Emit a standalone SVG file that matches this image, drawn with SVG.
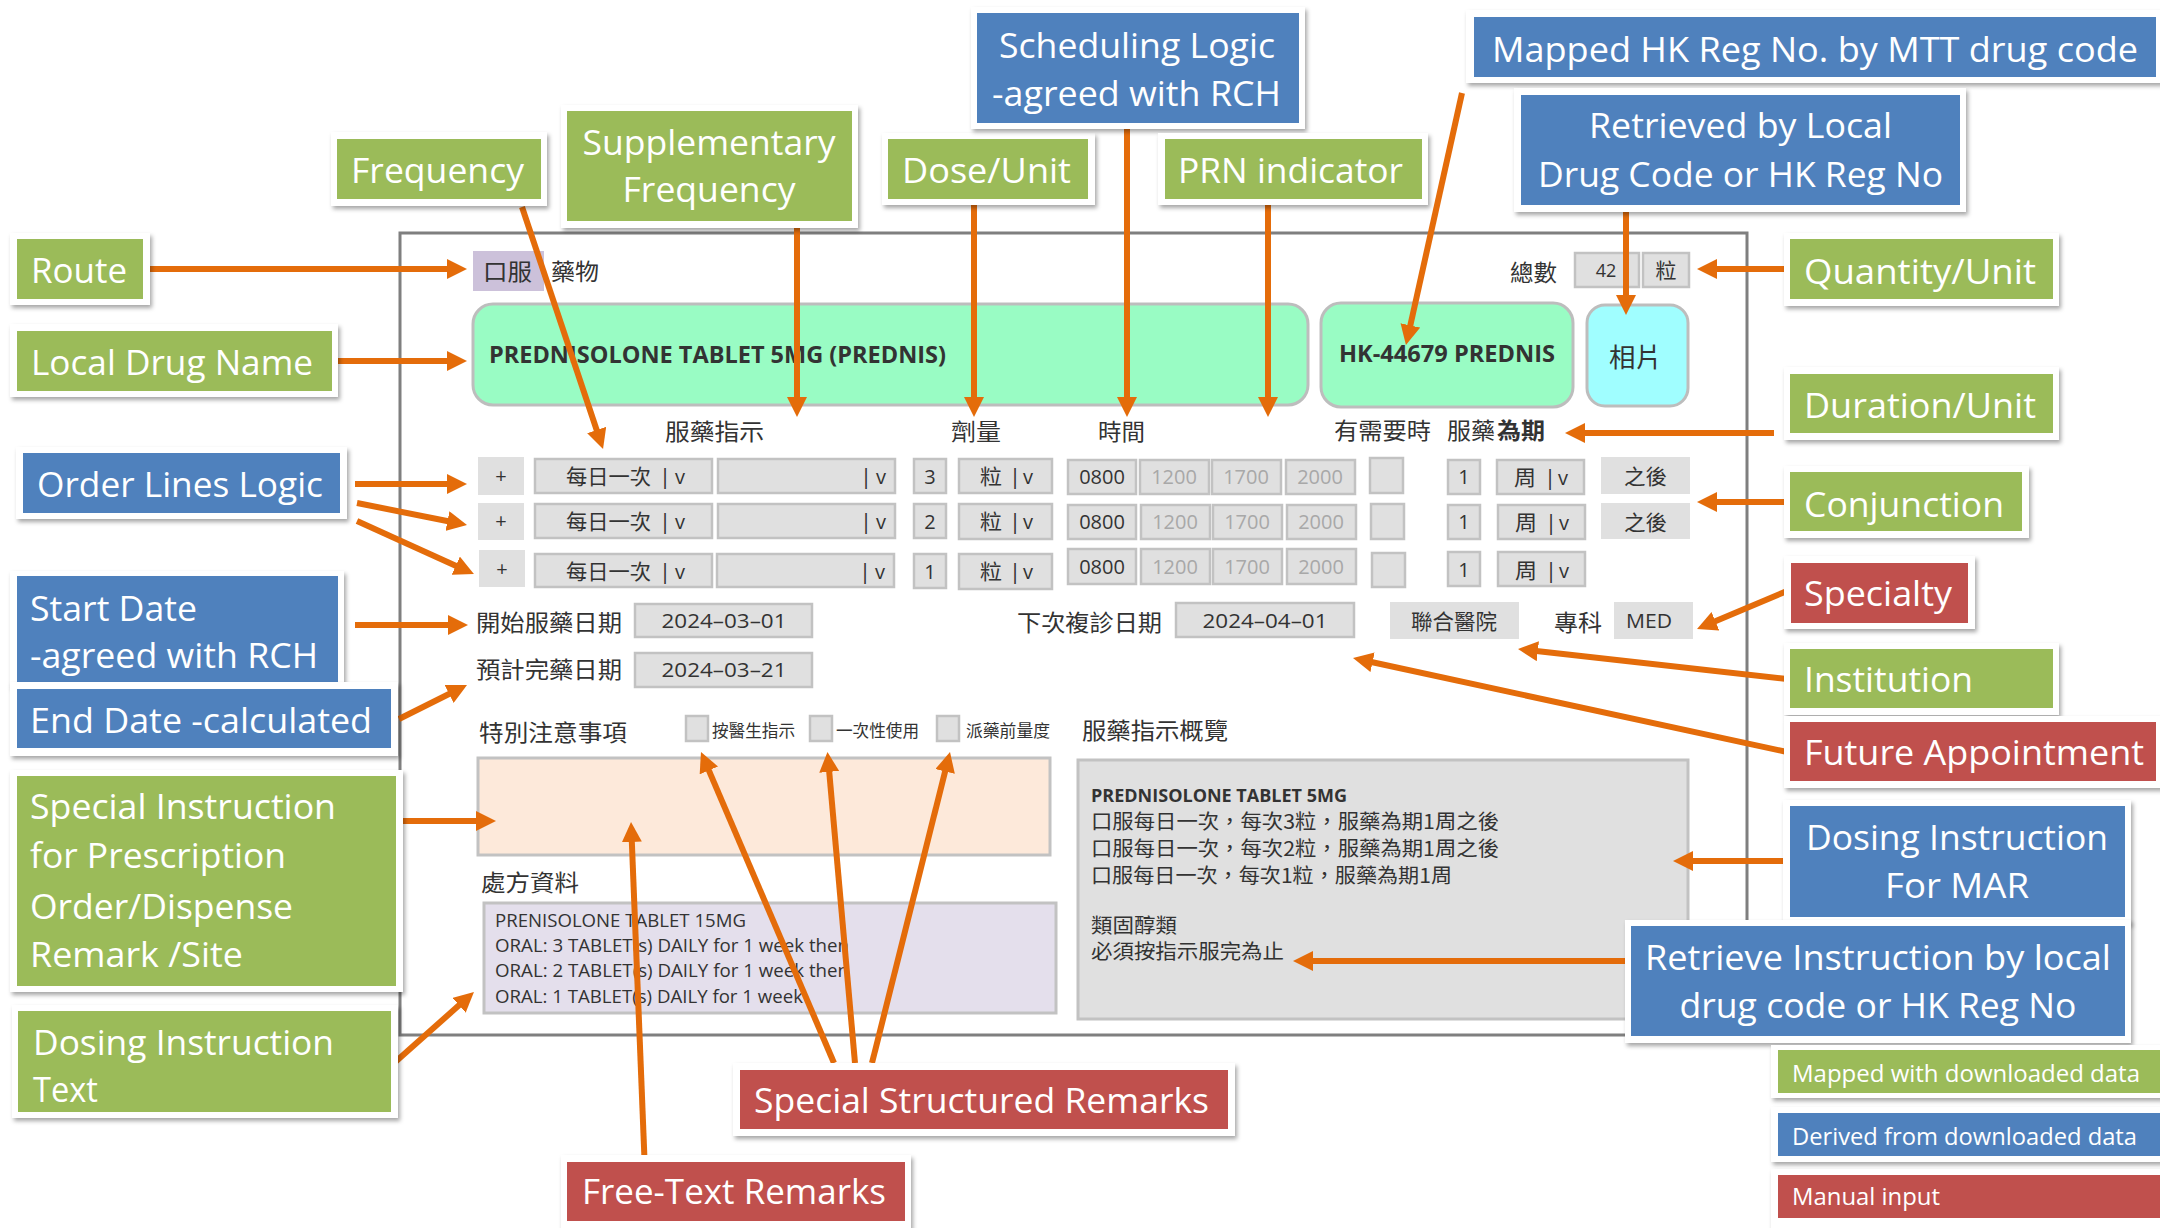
<svg xmlns="http://www.w3.org/2000/svg" width="2160" height="1228" viewBox="0 0 2160 1228">
<defs>
<filter id="sh" x="-10%" y="-20%" width="120%" height="150%">
<feDropShadow dx="2" dy="3" stdDeviation="2.2" flood-color="#000" flood-opacity="0.35"/>
</filter>
<marker id="ah" markerUnits="userSpaceOnUse" markerWidth="20" markerHeight="20" refX="6" refY="10" orient="auto">
<path d="M0,0 L20,10 L0,20 z" fill="#e46c0a"/>
</marker>
<style>
.card{fill:#fff;filter:url(#sh)}
.g{fill:#9bbb59}.b{fill:#4f81bd}.r{fill:#c0504d}
.lt{font-family:"Open Sans","Noto Sans",sans-serif;font-size:35px;fill:#fff}
.lg{font-size:24px}
.frame{fill:#fff;stroke:#7f7f7f;stroke-width:3}
.inp{fill:#e0e0e0;stroke:#c2c2c2;stroke-width:2.5}
.flat{fill:#e0e0e0}
.cj{font-family:"Noto Sans CJK TC","Noto Sans CJK SC",sans-serif;fill:#333}
.la{font-family:"Open Sans","Noto Sans",sans-serif;fill:#333}
.dim{fill:#a8a8a8}
.c{text-anchor:middle}
.conn{stroke:#e46c0a;stroke-width:6;fill:none;marker-end:url(#ah)}
</style>
</defs>
<rect width="2160" height="1228" fill="#fff"/>

<!-- medication order form -->
<g id="form">
<rect class="frame" x="400" y="233" width="1347" height="802"/>
<rect x="473" y="251" width="71" height="40" fill="#ccc1da"/>
<text class="cj" x="483" y="280" font-size="23" textLength="49" lengthAdjust="spacingAndGlyphs">口服</text>
<text class="cj" x="551" y="280" font-size="23" textLength="48" lengthAdjust="spacingAndGlyphs">藥物</text>
<text class="cj" x="1510" y="281" font-size="23" textLength="47" lengthAdjust="spacingAndGlyphs">總數</text>
<rect class="inp" x="1575" y="253" width="64" height="34"/>
<text class="la c" x="1606" y="277" font-size="18">42</text>
<rect class="inp" x="1643" y="253" width="46" height="34"/>
<text class="cj c" x="1666" y="278" font-size="21">粒</text>

<rect x="473" y="304" width="835" height="101" rx="20" fill="#99fcc4" stroke="#bdbdbd" stroke-width="3"/>
<text class="la" x="489" y="363" font-size="24" font-weight="700" textLength="457" lengthAdjust="spacingAndGlyphs">PREDNISOLONE TABLET 5MG (PREDNIS)</text>
<rect x="1321" y="303" width="252" height="104" rx="20" fill="#99fcc4" stroke="#bdbdbd" stroke-width="3"/>
<text class="la" x="1339" y="362" font-size="24" font-weight="700" textLength="216" lengthAdjust="spacingAndGlyphs">HK-44679 PREDNIS</text>
<rect x="1587" y="305" width="101" height="101" rx="18" fill="#a0feff" stroke="#bdbdbd" stroke-width="3"/>
<text class="cj" x="1609" y="367" font-size="26" textLength="53" lengthAdjust="spacingAndGlyphs">相片</text>

<!-- column headings -->
<text class="cj" x="665" y="440" font-size="23" textLength="99" lengthAdjust="spacingAndGlyphs">服藥指示</text>
<text class="cj" x="951" y="440" font-size="23" textLength="50" lengthAdjust="spacingAndGlyphs">劑量</text>
<text class="cj" x="1098" y="440" font-size="23" textLength="47" lengthAdjust="spacingAndGlyphs">時間</text>
<text class="cj" x="1334" y="439" font-size="23" textLength="97" lengthAdjust="spacingAndGlyphs">有需要時</text>
<text class="cj" x="1447" y="439" font-size="23" textLength="48" lengthAdjust="spacingAndGlyphs">服藥</text>
<text class="cj" x="1497" y="439" font-size="23" font-weight="700" textLength="48" lengthAdjust="spacingAndGlyphs">為期</text>

<!-- order line 1 -->
<g id="line1">
<rect class="flat" x="478" y="457" width="46" height="38"/>
<text class="la c" x="501" y="483" font-size="20">+</text>
<rect class="inp" x="535" y="459" width="177" height="34"/>
<text class="cj" x="566" y="484" font-size="21" textLength="85" lengthAdjust="spacingAndGlyphs">每日一次</text>
<text class="la" x="659" y="484" font-size="22">|</text><text class="la" x="675" y="484" font-size="20">v</text>
<rect class="inp" x="718" y="459" width="177" height="34"/>
<text class="la" x="860" y="484" font-size="22">|</text><text class="la" x="876" y="484" font-size="20">v</text>
<rect class="inp" x="914" y="459" width="32" height="34"/>
<text class="la c" x="930" y="484" font-size="20">3</text>
<rect class="inp" x="959" y="459" width="93" height="34"/>
<text class="cj" x="980" y="484" font-size="21" textLength="22" lengthAdjust="spacingAndGlyphs">粒</text>
<text class="la" x="1009" y="484" font-size="22">|</text><text class="la" x="1023" y="484" font-size="20">v</text>
<rect class="inp" x="1068" y="460" width="68" height="34"/><text class="la c" x="1102" y="484" font-size="20">0800</text>
<rect class="inp" x="1140" y="460" width="69" height="34"/><text class="la c dim" x="1174" y="484" font-size="20">1200</text>
<rect class="inp" x="1212" y="460" width="69" height="34"/><text class="la c dim" x="1246" y="484" font-size="20">1700</text>
<rect class="inp" x="1286" y="460" width="69" height="34"/><text class="la c dim" x="1320" y="484" font-size="20">2000</text>
<rect class="inp" x="1370" y="458" width="33" height="35"/>
<rect class="inp" x="1448" y="460" width="32" height="34"/><text class="la c" x="1464" y="484" font-size="20">1</text>
<rect class="inp" x="1497" y="460" width="87" height="34"/>
<text class="cj" x="1514" y="485" font-size="21" textLength="22" lengthAdjust="spacingAndGlyphs">周</text>
<text class="la" x="1544" y="485" font-size="22">|</text><text class="la" x="1558" y="485" font-size="20">v</text>
<rect class="flat" x="1601" y="457" width="89" height="37"/>
<text class="cj" x="1624" y="484" font-size="21" textLength="43" lengthAdjust="spacingAndGlyphs">之後</text>
</g>

<!-- order line 2 -->
<g id="line2">
<rect class="flat" x="478" y="503" width="46" height="37"/>
<text class="la c" x="501" y="528" font-size="20">+</text>
<rect class="inp" x="535" y="504" width="177" height="34"/>
<text class="cj" x="566" y="529" font-size="21" textLength="85" lengthAdjust="spacingAndGlyphs">每日一次</text>
<text class="la" x="659" y="529" font-size="22">|</text><text class="la" x="675" y="529" font-size="20">v</text>
<rect class="inp" x="718" y="504" width="177" height="34"/>
<text class="la" x="860" y="529" font-size="22">|</text><text class="la" x="876" y="529" font-size="20">v</text>
<rect class="inp" x="914" y="504" width="32" height="34"/>
<text class="la c" x="930" y="529" font-size="20">2</text>
<rect class="inp" x="959" y="504" width="93" height="35"/>
<text class="cj" x="980" y="529" font-size="21" textLength="22" lengthAdjust="spacingAndGlyphs">粒</text>
<text class="la" x="1009" y="529" font-size="22">|</text><text class="la" x="1023" y="529" font-size="20">v</text>
<rect class="inp" x="1068" y="505" width="68" height="34"/><text class="la c" x="1102" y="529" font-size="20">0800</text>
<rect class="inp" x="1141" y="505" width="69" height="34"/><text class="la c dim" x="1175" y="529" font-size="20">1200</text>
<rect class="inp" x="1213" y="505" width="69" height="34"/><text class="la c dim" x="1247" y="529" font-size="20">1700</text>
<rect class="inp" x="1287" y="505" width="69" height="34"/><text class="la c dim" x="1321" y="529" font-size="20">2000</text>
<rect class="inp" x="1371" y="504" width="33" height="35"/>
<rect class="inp" x="1448" y="505" width="32" height="34"/><text class="la c" x="1464" y="529" font-size="20">1</text>
<rect class="inp" x="1498" y="505" width="87" height="34"/>
<text class="cj" x="1515" y="530" font-size="21" textLength="22" lengthAdjust="spacingAndGlyphs">周</text>
<text class="la" x="1545" y="530" font-size="22">|</text><text class="la" x="1559" y="530" font-size="20">v</text>
<rect class="flat" x="1601" y="503" width="89" height="36"/>
<text class="cj" x="1624" y="530" font-size="21" textLength="43" lengthAdjust="spacingAndGlyphs">之後</text>
</g>

<!-- order line 3 -->
<g id="line3">
<rect class="flat" x="479" y="550" width="46" height="37"/>
<text class="la c" x="502" y="576" font-size="20">+</text>
<rect class="inp" x="535" y="554" width="177" height="33"/>
<text class="cj" x="566" y="579" font-size="21" textLength="85" lengthAdjust="spacingAndGlyphs">每日一次</text>
<text class="la" x="659" y="579" font-size="22">|</text><text class="la" x="675" y="579" font-size="20">v</text>
<rect class="inp" x="717" y="554" width="177" height="33"/>
<text class="la" x="859" y="579" font-size="22">|</text><text class="la" x="875" y="579" font-size="20">v</text>
<rect class="inp" x="914" y="554" width="32" height="34"/>
<text class="la c" x="930" y="579" font-size="20">1</text>
<rect class="inp" x="959" y="554" width="93" height="35"/>
<text class="cj" x="980" y="579" font-size="21" textLength="22" lengthAdjust="spacingAndGlyphs">粒</text>
<text class="la" x="1009" y="579" font-size="22">|</text><text class="la" x="1023" y="579" font-size="20">v</text>
<rect class="inp" x="1068" y="549" width="68" height="35"/><text class="la c" x="1102" y="574" font-size="20">0800</text>
<rect class="inp" x="1141" y="549" width="69" height="35"/><text class="la c dim" x="1175" y="574" font-size="20">1200</text>
<rect class="inp" x="1213" y="549" width="69" height="35"/><text class="la c dim" x="1247" y="574" font-size="20">1700</text>
<rect class="inp" x="1287" y="549" width="69" height="35"/><text class="la c dim" x="1321" y="574" font-size="20">2000</text>
<rect class="inp" x="1372" y="553" width="33" height="34"/>
<rect class="inp" x="1448" y="552" width="32" height="34"/><text class="la c" x="1464" y="577" font-size="20">1</text>
<rect class="inp" x="1498" y="552" width="87" height="34"/>
<text class="cj" x="1515" y="578" font-size="21" textLength="22" lengthAdjust="spacingAndGlyphs">周</text>
<text class="la" x="1545" y="578" font-size="22">|</text><text class="la" x="1559" y="578" font-size="20">v</text>
</g>

<!-- dates, institution, specialty -->
<text class="cj" x="476" y="631" font-size="23" textLength="146" lengthAdjust="spacingAndGlyphs">開始服藥日期</text>
<rect class="inp" x="635" y="604" width="177" height="33"/>
<text class="la c" x="724" y="628" font-size="20" textLength="125" lengthAdjust="spacingAndGlyphs">2024–03–01</text>
<text class="cj" x="476" y="678" font-size="23" textLength="146" lengthAdjust="spacingAndGlyphs">預計完藥日期</text>
<rect class="inp" x="635" y="653" width="177" height="34"/>
<text class="la c" x="724" y="677" font-size="20" textLength="125" lengthAdjust="spacingAndGlyphs">2024–03–21</text>
<text class="cj" x="1017" y="631" font-size="23" textLength="145" lengthAdjust="spacingAndGlyphs">下次複診日期</text>
<rect class="inp" x="1176" y="603" width="178" height="34"/>
<text class="la c" x="1265" y="628" font-size="20" textLength="125" lengthAdjust="spacingAndGlyphs">2024–04–01</text>
<rect class="flat" x="1390" y="602" width="129" height="37"/>
<text class="cj c" x="1454" y="629" font-size="21" textLength="86" lengthAdjust="spacingAndGlyphs">聯合醫院</text>
<text class="cj" x="1554" y="631" font-size="23" textLength="48" lengthAdjust="spacingAndGlyphs">專科</text>
<rect class="flat" x="1614" y="602" width="79" height="37"/>
<text class="la c" x="1649" y="628" font-size="20" textLength="46" lengthAdjust="spacingAndGlyphs">MED</text>

<!-- special instructions -->
<text class="cj" x="479" y="741" font-size="23" textLength="148" lengthAdjust="spacingAndGlyphs">特別注意事項</text>
<rect class="inp" x="686" y="716" width="22" height="25"/>
<text class="cj" x="712" y="737" font-size="17" textLength="83" lengthAdjust="spacingAndGlyphs">按醫生指示</text>
<rect class="inp" x="810" y="716" width="22" height="25"/>
<text class="cj" x="836" y="737" font-size="17" textLength="83" lengthAdjust="spacingAndGlyphs">一次性使用</text>
<rect class="inp" x="937" y="716" width="22" height="25"/>
<text class="cj" x="966" y="737" font-size="17" textLength="84" lengthAdjust="spacingAndGlyphs">派藥前量度</text>
<rect x="478" y="758" width="572" height="97" fill="#fde9da" stroke="#c2c2c2" stroke-width="3"/>

<text class="cj" x="481" y="891" font-size="23" textLength="98" lengthAdjust="spacingAndGlyphs">處方資料</text>
<rect x="484" y="903" width="572" height="110" fill="#e4dfec" stroke="#c2c2c2" stroke-width="3"/>
<g class="la" font-size="19" fill="#444">
<text x="495" y="927" textLength="251" lengthAdjust="spacingAndGlyphs">PRENISOLONE TABLET 15MG</text>
<text x="495" y="952" textLength="354" lengthAdjust="spacingAndGlyphs">ORAL: 3 TABLET(s) DAILY for 1 week then</text>
<text x="495" y="977" textLength="354" lengthAdjust="spacingAndGlyphs">ORAL: 2 TABLET(s) DAILY for 1 week then</text>
<text x="495" y="1003" textLength="308" lengthAdjust="spacingAndGlyphs">ORAL: 1 TABLET(s) DAILY for 1 week</text>
</g>

<!-- dosing summary -->
<text class="cj" x="1082" y="739" font-size="23" textLength="146" lengthAdjust="spacingAndGlyphs">服藥指示概覽</text>
<rect x="1078" y="760" width="610" height="259" fill="#e0e0e0" stroke="#c2c2c2" stroke-width="3"/>
<text class="la" x="1091" y="802" font-size="18" font-weight="700" textLength="256" lengthAdjust="spacingAndGlyphs">PREDNISOLONE TABLET 5MG</text>
<text class="cj" x="1091" y="829" font-size="20" textLength="408" lengthAdjust="spacingAndGlyphs">口服每日一次，每次3粒，服藥為期1周之後</text>
<text class="cj" x="1091" y="856" font-size="20" textLength="408" lengthAdjust="spacingAndGlyphs">口服每日一次，每次2粒，服藥為期1周之後</text>
<text class="cj" x="1091" y="883" font-size="20" textLength="361" lengthAdjust="spacingAndGlyphs">口服每日一次，每次1粒，服藥為期1周</text>
<text class="cj" x="1091" y="933" font-size="20" textLength="86" lengthAdjust="spacingAndGlyphs">類固醇類</text>
<text class="cj" x="1091" y="959" font-size="20" textLength="193" lengthAdjust="spacingAndGlyphs">必須按指示服完為止</text>
</g>

<!-- connectors -->
<g id="connectors">
<line class="conn" x1="147" y1="269" x2="453" y2="269"/>
<line class="conn" x1="336" y1="361" x2="453" y2="361"/>
<line class="conn" x1="355" y1="484" x2="453" y2="484"/>
<line class="conn" x1="357" y1="503" x2="453.3" y2="522.3"/>
<line class="conn" x1="357" y1="521" x2="461.2" y2="568.2"/>
<line class="conn" x1="355" y1="625" x2="454" y2="625"/>
<line class="conn" x1="399" y1="719" x2="454.5" y2="691.3"/>
<line class="conn" x1="399" y1="821" x2="482" y2="821"/>
<line class="conn" x1="393" y1="1064" x2="463.5" y2="1001.3"/>
<line class="conn" x1="522" y1="207" x2="598.6" y2="435.7"/>
<line class="conn" x1="797" y1="225" x2="797" y2="403"/>
<line class="conn" x1="974" y1="202" x2="974" y2="403"/>
<line class="conn" x1="1127" y1="122" x2="1127" y2="403"/>
<line class="conn" x1="1268" y1="187" x2="1268" y2="403"/>
<line class="conn" x1="1462" y1="93" x2="1409" y2="331.3"/>
<line class="conn" x1="1626" y1="208" x2="1626" y2="301"/>
<line class="conn" x1="1795" y1="269" x2="1711" y2="269"/>
<line class="conn" x1="1774" y1="433" x2="1579" y2="433"/>
<line class="conn" x1="1787" y1="502" x2="1711" y2="502"/>
<line class="conn" x1="1787" y1="591" x2="1709.9" y2="623.6"/>
<line class="conn" x1="1787" y1="679" x2="1531.9" y2="650.6"/>
<line class="conn" x1="1787" y1="752" x2="1366.7" y2="661"/>
<line class="conn" x1="1783" y1="861" x2="1687" y2="861"/>
<line class="conn" x1="1627" y1="961" x2="1307" y2="961"/>
<line class="conn" x1="834" y1="1063" x2="706.5" y2="764.9"/>
<line class="conn" x1="855" y1="1063" x2="828.7" y2="765.9"/>
<line class="conn" x1="872" y1="1063" x2="946.6" y2="765.6"/>
<line class="conn" x1="645" y1="1172" x2="631.6" y2="836"/>
</g>

<!-- field labels -->
<g id="route"><rect class="card" x="10" y="233" width="140" height="72"/><rect class="g" x="17" y="239" width="126" height="60"/>
<text class="lt" x="31" y="283" textLength="96" lengthAdjust="spacingAndGlyphs">Route</text></g>
<g id="local-drug-name"><rect class="card" x="10" y="324" width="328" height="73"/><rect class="g" x="17" y="331" width="315" height="60"/>
<text class="lt" x="31" y="375" textLength="282" lengthAdjust="spacingAndGlyphs">Local Drug Name</text></g>
<g id="order-lines-logic"><rect class="card" x="16" y="447" width="331" height="72"/><rect class="b" x="23" y="453" width="317" height="60"/>
<text class="lt" x="37" y="497" textLength="286" lengthAdjust="spacingAndGlyphs">Order Lines Logic</text></g>
<g id="start-date"><rect class="card" x="10" y="571" width="334" height="116"/><rect class="b" x="17" y="576" width="321" height="108"/>
<text class="lt" x="30" y="621" textLength="167" lengthAdjust="spacingAndGlyphs">Start Date</text>
<text class="lt" x="30" y="668" textLength="288" lengthAdjust="spacingAndGlyphs">-agreed with RCH</text></g>
<g id="end-date"><rect class="card" x="10" y="682" width="388" height="74"/><rect class="b" x="17" y="689" width="374" height="59"/>
<text class="lt" x="30" y="733" textLength="342" lengthAdjust="spacingAndGlyphs">End Date -calculated</text></g>
<g id="special-instruction"><rect class="card" x="10" y="770" width="393" height="222"/><rect class="g" x="17" y="776" width="379" height="210"/>
<text class="lt" x="30" y="819" textLength="306" lengthAdjust="spacingAndGlyphs">Special Instruction</text>
<text class="lt" x="30" y="868" textLength="256" lengthAdjust="spacingAndGlyphs">for Prescription</text>
<text class="lt" x="30" y="919" textLength="263" lengthAdjust="spacingAndGlyphs">Order/Dispense</text>
<text class="lt" x="30" y="967" textLength="213" lengthAdjust="spacingAndGlyphs">Remark /Site</text></g>
<g id="dosing-instruction-text"><rect class="card" x="12" y="1005" width="386" height="113"/><rect class="g" x="18" y="1011" width="373" height="101"/>
<text class="lt" x="33" y="1055" textLength="301" lengthAdjust="spacingAndGlyphs">Dosing Instruction</text>
<text class="lt" x="33" y="1102" textLength="65" lengthAdjust="spacingAndGlyphs">Text</text></g>
<g id="frequency"><rect class="card" x="331" y="132" width="216" height="74"/><rect class="g" x="337" y="139" width="204" height="60"/>
<text class="lt" x="351" y="183" textLength="173" lengthAdjust="spacingAndGlyphs">Frequency</text></g>
<g id="supplementary-frequency"><rect class="card" x="561" y="105" width="297" height="123"/><rect class="g" x="567" y="111" width="285" height="110"/>
<text class="lt c" x="709" y="155" textLength="253" lengthAdjust="spacingAndGlyphs">Supplementary</text>
<text class="lt c" x="709" y="202" textLength="173" lengthAdjust="spacingAndGlyphs">Frequency</text></g>
<g id="dose-unit"><rect class="card" x="882" y="133" width="213" height="72"/><rect class="g" x="888" y="139" width="200" height="60"/>
<text class="lt" x="902" y="183" textLength="169" lengthAdjust="spacingAndGlyphs">Dose/Unit</text></g>
<g id="scheduling-logic"><rect class="card" x="971" y="7" width="334" height="122"/><rect class="b" x="977" y="13" width="322" height="110"/>
<text class="lt" x="999" y="58" textLength="276" lengthAdjust="spacingAndGlyphs">Scheduling Logic</text>
<text class="lt" x="992" y="106" textLength="289" lengthAdjust="spacingAndGlyphs">-agreed with RCH</text></g>
<g id="prn-indicator"><rect class="card" x="1158" y="133" width="270" height="72"/><rect class="g" x="1165" y="139" width="257" height="60"/>
<text class="lt" x="1178" y="183" textLength="225" lengthAdjust="spacingAndGlyphs">PRN indicator</text></g>
<g id="mapped-hk-reg-no"><rect class="card" x="1466" y="10" width="700" height="73"/><rect class="b" x="1474" y="17" width="682" height="60"/>
<text class="lt" x="1492" y="62" textLength="646" lengthAdjust="spacingAndGlyphs">Mapped HK Reg No. by MTT drug code</text></g>
<g id="retrieved-by-local"><rect class="card" x="1514" y="88" width="452" height="124"/><rect class="b" x="1521" y="95" width="439" height="110"/>
<text class="lt" x="1589" y="138" textLength="303" lengthAdjust="spacingAndGlyphs">Retrieved by Local</text>
<text class="lt" x="1538" y="187" textLength="405" lengthAdjust="spacingAndGlyphs">Drug Code or HK Reg No</text></g>
<g id="quantity-unit"><rect class="card" x="1784" y="233" width="275" height="73"/><rect class="g" x="1790" y="239" width="263" height="60"/>
<text class="lt" x="1804" y="284" textLength="232" lengthAdjust="spacingAndGlyphs">Quantity/Unit</text></g>
<g id="duration-unit"><rect class="card" x="1784" y="367" width="275" height="73"/><rect class="g" x="1790" y="374" width="263" height="59"/>
<text class="lt" x="1804" y="418" textLength="232" lengthAdjust="spacingAndGlyphs">Duration/Unit</text></g>
<g id="conjunction"><rect class="card" x="1784" y="466" width="245" height="72"/><rect class="g" x="1790" y="472" width="232" height="59"/>
<text class="lt" x="1804" y="517" textLength="200" lengthAdjust="spacingAndGlyphs">Conjunction</text></g>
<g id="specialty"><rect class="card" x="1784" y="556" width="191" height="73"/><rect class="r" x="1791" y="563" width="177" height="60"/>
<text class="lt" x="1804" y="606" textLength="148" lengthAdjust="spacingAndGlyphs">Specialty</text></g>
<g id="institution"><rect class="card" x="1784" y="643" width="275" height="72"/><rect class="g" x="1790" y="649" width="263" height="59"/>
<text class="lt" x="1804" y="692" textLength="169" lengthAdjust="spacingAndGlyphs">Institution</text></g>
<g id="future-appointment"><rect class="card" x="1784" y="716" width="380" height="72"/><rect class="r" x="1790" y="722" width="366" height="59"/>
<text class="lt" x="1804" y="765" textLength="340" lengthAdjust="spacingAndGlyphs">Future Appointment</text></g>
<g id="dosing-instruction-mar"><rect class="card" x="1783" y="800" width="348" height="124"/><rect class="b" x="1790" y="806" width="335" height="111"/>
<text class="lt c" x="1957" y="850" textLength="302" lengthAdjust="spacingAndGlyphs">Dosing Instruction</text>
<text class="lt c" x="1957" y="898" textLength="144" lengthAdjust="spacingAndGlyphs">For MAR</text></g>
<g id="retrieve-instruction"><rect class="card" x="1625" y="920" width="506" height="123"/><rect class="b" x="1631" y="926" width="494" height="110"/>
<text class="lt c" x="1878" y="970" textLength="466" lengthAdjust="spacingAndGlyphs">Retrieve Instruction by local</text>
<text class="lt c" x="1878" y="1018" textLength="397" lengthAdjust="spacingAndGlyphs">drug code or HK Reg No</text></g>
<g id="special-structured-remarks"><rect class="card" x="733" y="1063" width="502" height="73"/><rect class="r" x="740" y="1070" width="488" height="59"/>
<text class="lt" x="754" y="1113" textLength="455" lengthAdjust="spacingAndGlyphs">Special Structured Remarks</text></g>
<g id="free-text-remarks"><rect class="card" x="561" y="1155" width="350" height="80"/><rect class="r" x="567" y="1162" width="338" height="59"/>
<text class="lt" x="582" y="1204" textLength="304" lengthAdjust="spacingAndGlyphs">Free-Text Remarks</text></g>

<!-- legend -->
<g id="legend-mapped"><rect class="card" x="1771" y="1045" width="395" height="53"/><rect class="g" x="1778" y="1050" width="382" height="43"/>
<text class="lt lg" x="1792" y="1082" textLength="348" lengthAdjust="spacingAndGlyphs">Mapped with downloaded data</text></g>
<g id="legend-derived"><rect class="card" x="1771" y="1107" width="395" height="55"/><rect class="b" x="1778" y="1113" width="382" height="43"/>
<text class="lt lg" x="1792" y="1145" textLength="345" lengthAdjust="spacingAndGlyphs">Derived from downloaded data</text></g>
<g id="legend-manual"><rect class="card" x="1771" y="1169" width="395" height="66"/><rect class="r" x="1778" y="1175" width="382" height="43"/>
<text class="lt lg" x="1792" y="1205" textLength="148" lengthAdjust="spacingAndGlyphs">Manual input</text></g>
</svg>
